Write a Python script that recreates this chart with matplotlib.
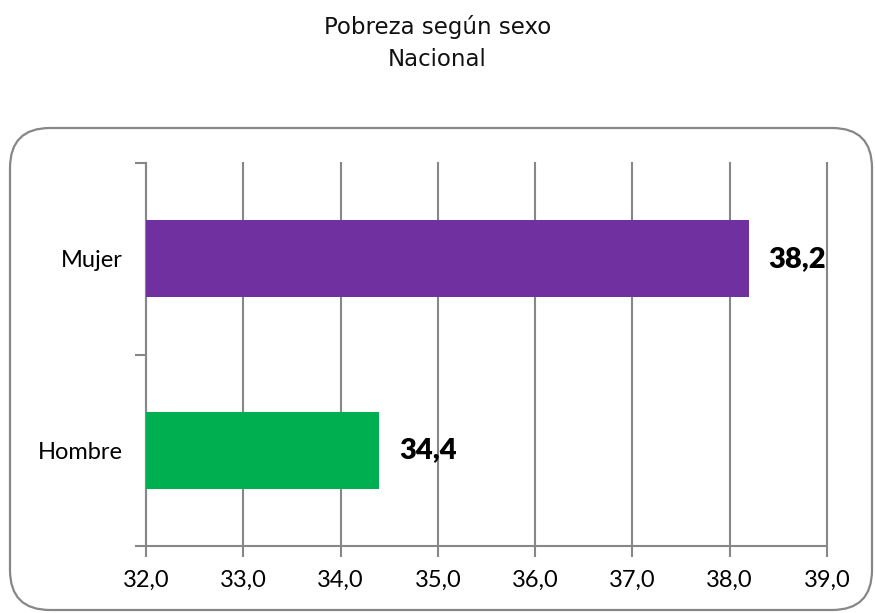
import numpy as np
import matplotlib.pyplot as plt
from matplotlib.patches import FancyBboxPatch

# data
categories = ['Hombre', 'Mujer']
values = [34.4, 38.2]
bar_colors = ['#00B050', '#7030A0']
x_ticks = [32, 33, 34, 35, 36, 37, 38, 39]

W, H = 875, 613
fig = plt.figure(figsize=(W / 100, H / 100), dpi=100)

# rounded frame round the plot, in pixels
frame = FancyBboxPatch((10, 3), 862, 482,
                       boxstyle='round,pad=0,rounding_size=40',
                       transform=None, facecolor='none',
                       edgecolor='#878787', linewidth=1.6, zorder=-1)
fig.patches.append(frame)

ax = fig.add_axes([146 / W, 1 - 546 / H, (827 - 146) / W, (546 - 163) / H])
ax.set_facecolor('none')

y = np.arange(len(categories))
ax.barh(y, [v - 32 for v in values], left=32, height=0.4, color=bar_colors, zorder=3)

for yi, v in zip(y, values):
    ax.text(v + 0.2, yi, f'{v:.1f}'.replace('.', ','), va='center', ha='left',
            fontsize=21, fontweight='heavy', family='Lato', zorder=4)

ax.set_xlim(32, 39)
ax.set_ylim(-0.5, 1.5)
ax.set_xticks(x_ticks)
ax.set_xticklabels([f'{t:.1f}'.replace('.', ',') for t in x_ticks],
                   fontsize=17, family='Lato')
ax.set_yticks(y)
ax.set_yticklabels(categories, fontsize=17, family='Lato')
ax.set_yticks([-0.5, 0.5, 1.5], minor=True)
ax.tick_params(axis='y', which='major', length=0, pad=17)
ax.tick_params(axis='y', which='minor', length=8, color='#878787', width=1.5)
ax.tick_params(axis='x', length=8, color='#878787', width=1.5, pad=9)

ax.grid(axis='x', color='#878787', linewidth=1.5, zorder=1)
for line in ax.get_xgridlines():
    line.set_clip_on(False)
for s in ['top', 'right']:
    ax.spines[s].set_visible(False)
for s in ['left', 'bottom']:
    ax.spines[s].set_color('#878787')
    ax.spines[s].set_linewidth(1.5)

fig.text(0.5, 1 - 27 / H, 'Pobreza según sexo', ha='center', va='center',
         fontsize=16.5, family='DejaVu Sans', stretch='normal', color='#111111')
fig.text(0.5, 1 - 60 / H, 'Nacional', ha='center', va='center',
         fontsize=16.5, family='DejaVu Sans', stretch='normal', color='#111111')

fig.savefig('out.png', dpi=100)
